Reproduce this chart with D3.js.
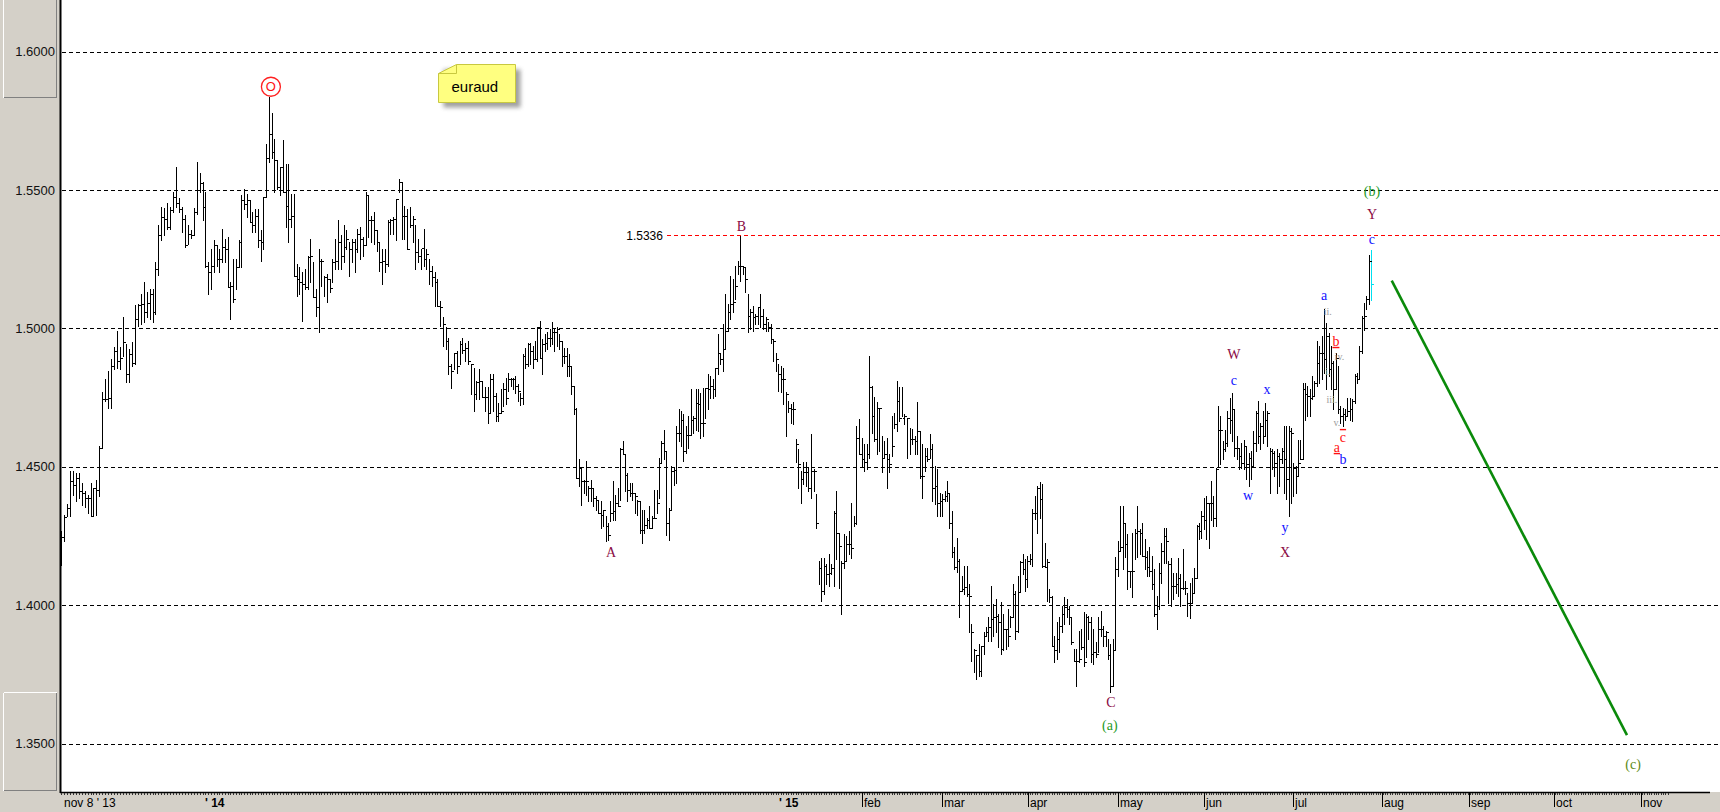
<!DOCTYPE html>
<html><head><meta charset="utf-8">
<script src="https://cdn.jsdelivr.net/npm/d3@7"></script>
<style>body{margin:0;background:#fff;overflow:hidden}svg{display:block}</style>
</head><body>
<svg id="c" width="1720" height="812"></svg>
<script>
// ---- data (EURAUD daily bars) ----
const highs = [
1.4267,1.4327,1.4366,1.4484,1.4484,1.4478,1.4478,1.4442,1.4412,1.4400,
1.4442,1.4424,1.4454,1.4575,1.4769,1.4817,1.4847,1.4889,1.4932,1.4992,
1.4932,1.5041,1.4944,1.4926,1.4950,1.5083,1.5089,1.5125,1.5168,1.5131,
1.5143,1.5143,1.5240,1.5373,1.5440,1.5434,1.5452,1.5440,1.5494,1.5582,
1.5470,1.5440,1.5409,1.5373,1.5355,1.5434,1.5603,1.5563,
1.5529,1.5493,1.5239,1.5287,1.5318,1.5300,1.5287,1.5360,1.5324,1.5330,
1.5167,1.5251,1.5251,1.5318,1.5481,1.5505,1.5487,1.5463,1.5420,1.5432,
1.5432,1.5354,1.5475,1.5668,1.5837,1.5777,1.5686,1.5607,1.5583,1.5680,
1.5595,1.5595,1.5487,1.5487,1.5233,1.5221,1.5203,1.5215,1.5263,1.5324,
1.5239,1.5143,1.5287,1.5251,1.5191,1.5197,1.5179,1.5251,1.5324,1.5390,
1.5336,1.5372,1.5354,1.5312,1.5324,1.5324,1.5360,1.5366,1.5330,1.5493,
1.5481,1.5408,1.5420,1.5354,1.5312,1.5287,1.5287,1.5390,1.5396,1.5402,
1.5469,1.5541,1.5529,1.5444,1.5432,1.5438,1.5408,1.5372,1.5324,1.5287,
1.5360,1.5287,1.5251,1.5227,1.5203,1.5179,1.5100,1.5040,
1.5004,1.4967,1.4871,1.4913,1.4919,1.4955,1.4967,1.4949,1.4955,1.4871,
1.4859,1.4811,1.4853,1.4811,1.4787,1.4787,1.4835,1.4835,
1.4768,1.4732,1.4780,1.4804,1.4822,1.4841,1.4822,1.4822,1.4829,1.4798,
1.4768,1.4907,1.4931,1.4949,1.4949,1.4937,1.4955,1.5004,1.5028,1.4961,
1.4979,1.4986,1.4998,1.5022,1.4998,1.5004,1.4979,1.4955,1.4931,1.4931,
1.4907,1.4865,1.4792,1.4714,1.4527,1.4496,1.4454,1.4521,1.4430,1.4454,
1.4424,1.4394,1.4376,1.4376,1.4345,1.4321,1.4297,1.4376,1.4448,1.4400,
1.4424,1.4569,1.4593,1.4545,1.4478,1.4442,1.4442,1.4406,1.4382,1.4376,
1.4345,1.4345,1.4315,1.4358,1.4321,1.4418,1.4418,1.4533,1.4593,1.4635,
1.4557,1.4351,1.4502,1.4496,1.4647,1.4708,1.4702,1.4690,1.4647,1.4684,
1.4780,1.4684,1.4780,1.4780,1.4768,1.4786,1.4786,1.4835,1.4829,1.4816,
1.4859,1.4980,1.4913,1.5016,1.5124,1.5088,1.5190,1.5178,1.5227,1.5245,
1.5335,1.5227,1.5220,1.5124,1.5070,1.5082,1.5052,1.5076,1.5124,1.5070,
1.5040,1.5022,1.5016,1.4961,1.4913,1.4871,1.4865,1.4859,1.4769,1.4739,
1.4727,1.4733,1.4600,1.4564,1.4486,1.4516,1.4516,1.4498,1.4618,1.4492,
1.4401,1.4160,1.4172,1.4172,1.4148,1.4184,1.4148,1.4341,1.4413,1.4263,
1.4160,1.4257,1.4251,1.4269,1.4371,1.4323,1.4648,1.4672,1.4606,1.4582,
1.4582,1.4901,1.4793,1.4751,1.4733,1.4714,1.4612,1.4594,1.4606,1.4546,
1.4684,1.4696,1.4811,1.4787,1.4787,1.4690,1.4678,1.4642,1.4636,1.4612,
1.4733,1.4630,1.4582,1.4570,1.4570,1.4618,1.4582,1.4504,
1.4492,1.4407,1.4401,1.4413,1.4450,1.4407,1.4341,1.4209,1.4245,1.4167,
1.4107,1.4143,1.4143,1.4077,1.3933,1.3843,1.3819,1.3861,1.3855,1.3903,
1.3921,1.3957,1.4071,1.4005,1.4023,1.3969,1.4011,1.3969,1.3915,1.3987,
1.3963,1.4077,1.4053,1.4107,1.4161,1.4185,1.4167,1.4179,1.4185,1.4347,
1.4395,1.4431,1.4444,1.4438,1.4227,1.4167,1.4059,1.4035,1.3891,1.3939,
1.3957,1.3999,1.4029,1.4023,1.3999,1.3957,1.3843,1.3843,1.3909,1.3915,
1.3975,1.3969,1.3963,1.3957,1.3915,1.3867,1.3957,1.3981,1.3927,1.3909,
1.3879,1.3861,1.3879,1.4173,1.4233,1.4359,1.4359,1.4293,1.4257,1.4125,
1.4263,1.4275,1.4359,1.4275,1.4299,1.4239,1.4197,1.4209,1.4179,1.4131,
1.4034,1.4154,1.4226,1.4280,1.4280,1.4160,1.4172,1.4118,1.4118,1.4172,
1.4112,1.4202,1.4088,1.4046,1.4082,1.4100,1.4136,1.4292,1.4298,1.4341,
1.4389,1.4395,1.4371,1.4449,1.4395,1.4497,1.4720,1.4684,1.4593,1.4635,
1.4702,1.4750,1.4768,1.4708,1.4611,1.4569,1.4587,1.4599,1.4575,1.4551,
1.4557,1.4629,1.4702,1.4738,1.4659,1.4702,1.4732,1.4702,1.4569,1.4563,
1.4557,1.4563,1.4551,1.4569,1.4647,1.4647,1.4647,1.4641,1.4515,1.4503,
1.4599,1.4599,1.4804,1.4804,1.4792,1.4780,1.4828,1.4810,1.4954,1.4936,
1.4972,1.5069,1.5020,1.4984,1.4936,1.4882,1.4912,1.4864,1.4720,1.4714,
1.4708,1.4750,1.4750,1.4744,1.4834,1.4840,1.4936,1.5045,1.5093,1.5117,
1.5265,1.5283];
const lows = [
1.4146,1.4231,1.4321,1.4321,1.4400,1.4376,1.4388,1.4364,1.4357,1.4333,
1.4321,1.4321,1.4327,1.4394,1.4569,1.4738,1.4714,1.4714,1.4853,1.4859,
1.4853,1.4901,1.4805,1.4805,1.4865,1.4871,1.5010,1.5016,1.5022,1.5041,
1.5035,1.5022,1.5053,1.5192,1.5319,1.5337,1.5361,1.5361,1.5421,1.5440,
1.5421,1.5349,1.5294,1.5306,1.5325,1.5337,1.5415,1.5494,
1.5390,1.5221,1.5124,1.5143,1.5203,1.5227,1.5203,1.5239,1.5239,1.5149,
1.5036,1.5094,1.5143,1.5221,1.5221,1.5432,1.5402,1.5384,1.5348,1.5348,
1.5293,1.5245,1.5287,1.5475,1.5601,1.5614,1.5493,1.5505,1.5481,1.5493,
1.5366,1.5312,1.5366,1.5191,1.5118,1.5124,1.5028,1.5143,1.5143,1.5167,
1.5112,1.5046,1.4988,1.5155,1.5118,1.5094,1.5133,1.5167,1.5215,1.5215,
1.5215,1.5239,1.5287,1.5191,1.5239,1.5203,1.5275,1.5251,1.5263,1.5300,
1.5330,1.5312,1.5306,1.5281,1.5209,1.5161,1.5203,1.5227,1.5342,1.5342,
1.5318,1.5493,1.5324,1.5324,1.5287,1.5366,1.5312,1.5215,1.5239,1.5215,
1.5227,1.5215,1.5161,1.5155,1.5082,1.5082,1.5010,1.4937,
1.4925,1.4835,1.4784,1.4853,1.4841,1.4871,1.4913,1.4883,1.4871,1.4763,
1.4702,1.4745,1.4745,1.4751,1.4702,1.4660,1.4696,1.4702,
1.4665,1.4665,1.4696,1.4720,1.4726,1.4774,1.4792,1.4780,1.4768,1.4738,
1.4723,1.4726,1.4859,1.4865,1.4871,1.4859,1.4889,1.4883,1.4895,1.4835,
1.4919,1.4925,1.4937,1.4943,1.4919,1.4937,1.4925,1.4865,1.4877,1.4829,
1.4829,1.4762,1.4690,1.4460,1.4430,1.4364,1.4406,1.4400,1.4376,1.4376,
1.4358,1.4345,1.4333,1.4279,1.4285,1.4231,1.4237,1.4303,1.4309,1.4309,
1.4358,1.4382,1.4545,1.4412,1.4376,1.4394,1.4382,1.4333,1.4327,1.4261,
1.4225,1.4261,1.4279,1.4279,1.4279,1.4315,1.4333,1.4388,1.4514,1.4527,
1.4255,1.4237,1.4345,1.4436,1.4442,1.4593,1.4575,1.4521,1.4551,1.4569,
1.4617,1.4623,1.4635,1.4629,1.4605,1.4611,1.4678,1.4708,1.4750,1.4750,
1.4757,1.4835,1.4871,1.4847,1.4925,1.4992,1.5034,1.5058,1.5106,1.5196,
1.5172,1.5196,1.5130,1.4986,1.4998,1.4992,1.5016,1.5016,1.5004,1.4998,
1.4992,1.4992,1.4949,1.4883,1.4847,1.4775,1.4769,1.4727,1.4612,1.4700,
1.4660,1.4654,1.4516,1.4425,1.4371,1.4437,1.4431,1.4413,1.4389,1.4413,
1.4281,1.4076,1.4016,1.4040,1.4076,1.4070,1.4112,1.4070,1.4166,1.4064,
1.3967,1.4136,1.4160,1.4184,1.4172,1.4287,1.4293,1.4546,1.4498,1.4486,
1.4492,1.4534,1.4624,1.4594,1.4546,1.4558,1.4480,1.4534,1.4425,1.4480,
1.4540,1.4642,1.4630,1.4666,1.4684,1.4654,1.4534,1.4546,1.4582,1.4546,
1.4546,1.4461,1.4389,1.4486,1.4522,1.4534,1.4377,1.4365,
1.4323,1.4323,1.4323,1.4377,1.4377,1.4281,1.4173,1.4131,1.4119,1.3957,
1.4053,1.4041,1.4035,1.3903,1.3800,1.3758,1.3734,1.3746,1.3746,1.3825,
1.3891,1.3873,1.3873,1.3891,1.3903,1.3849,1.3825,1.3837,1.3843,1.3855,
1.3921,1.3957,1.3879,1.3903,1.4047,1.4113,1.4053,1.4065,1.4149,1.4143,
1.4311,1.4263,1.4317,1.4137,1.4137,1.4017,1.4011,1.3855,1.3794,1.3806,
1.3831,1.3903,1.3933,1.3957,1.3933,1.3861,1.3800,1.3710,1.3794,1.3843,
1.3782,1.3813,1.3879,1.3794,1.3788,1.3813,1.3831,1.3891,1.3855,1.3855,
1.3807,1.3686,1.3710,1.3837,1.4107,1.4197,1.4131,1.4173,1.4059,1.4065,
1.4029,1.4167,1.4173,1.4185,1.4179,1.4131,1.4107,1.4107,1.4059,1.3963,
1.3913,1.3986,1.4082,1.4154,1.4154,1.4010,1.3998,1.4022,1.4046,1.4034,
1.3998,1.4058,1.4040,1.3961,1.3955,1.4010,1.4046,1.4100,1.4238,1.4244,
1.4274,1.4238,1.4208,1.4310,1.4286,1.4286,1.4503,1.4509,1.4527,1.4557,
1.4575,1.4623,1.4593,1.4539,1.4527,1.4491,1.4497,1.4491,1.4455,1.4431,
1.4455,1.4503,1.4557,1.4587,1.4563,1.4587,1.4611,1.4575,1.4407,1.4491,
1.4467,1.4407,1.4431,1.4515,1.4407,1.4383,1.4322,1.4371,1.4395,1.4407,
1.4467,1.4527,1.4527,1.4671,1.4684,1.4684,1.4744,1.4756,1.4792,1.4804,
1.4816,1.4840,1.4780,1.4828,1.4780,1.4708,1.4780,1.4696,1.4659,1.4647,
1.4671,1.4684,1.4671,1.4665,1.4732,1.4804,1.4816,1.4912,1.4996,1.5069,
1.5090,1.5102];
const closes = [
1.4246,1.4319,1.4351,1.4448,1.4436,1.4460,1.4412,1.4406,1.4388,1.4388,
1.4321,1.4424,1.4418,1.4569,1.4744,1.4744,1.4750,1.4865,1.4920,1.4883,
1.4895,1.4950,1.4835,1.4908,1.4874,1.5035,1.5083,1.5089,1.5059,1.5093,
1.5125,1.5059,1.5216,1.5337,1.5403,1.5397,1.5367,1.5427,1.5476,1.5452,
1.5430,1.5397,1.5300,1.5343,1.5337,1.5421,1.5500,1.5524,
1.5438,1.5227,1.5203,1.5227,1.5300,1.5251,1.5251,1.5293,1.5287,1.5149,
1.5155,1.5106,1.5221,1.5312,1.5463,1.5450,1.5463,1.5384,1.5372,1.5408,
1.5318,1.5312,1.5475,1.5614,1.5704,1.5638,1.5607,1.5511,1.5583,1.5493,
1.5444,1.5396,1.5408,1.5191,1.5179,1.5167,1.5161,1.5149,1.5257,1.5263,
1.5112,1.5076,1.5245,1.5245,1.5185,1.5179,1.5145,1.5239,1.5245,1.5312,
1.5263,1.5293,1.5324,1.5287,1.5312,1.5287,1.5342,1.5324,1.5300,1.5481,
1.5390,1.5390,1.5354,1.5312,1.5239,1.5245,1.5233,1.5384,1.5390,1.5396,
1.5469,1.5529,1.5408,1.5408,1.5287,1.5372,1.5396,1.5275,1.5260,1.5290,
1.5250,1.5270,1.5209,1.5185,1.5167,1.5082,1.5076,1.5016,
1.4955,1.4865,1.4847,1.4913,1.4865,1.4943,1.4922,1.4931,1.4883,1.4871,
1.4763,1.4805,1.4811,1.4751,1.4751,1.4696,1.4817,1.4757,
1.4684,1.4696,1.4702,1.4780,1.4750,1.4816,1.4816,1.4816,1.4792,1.4774,
1.4750,1.4901,1.4871,1.4943,1.4919,1.4889,1.4889,1.5004,1.4895,1.4943,
1.4949,1.4964,1.4964,1.4986,1.4986,1.4998,1.4955,1.4901,1.4901,1.4865,
1.4865,1.4792,1.4708,1.4460,1.4496,1.4448,1.4448,1.4448,1.4424,1.4424,
1.4388,1.4382,1.4333,1.4327,1.4345,1.4285,1.4255,1.4333,1.4339,1.4370,
1.4358,1.4563,1.4545,1.4472,1.4418,1.4406,1.4406,1.4394,1.4376,1.4273,
1.4273,1.4291,1.4309,1.4279,1.4315,1.4315,1.4370,1.4514,1.4587,1.4557,
1.4297,1.4345,1.4484,1.4490,1.4623,1.4623,1.4671,1.4557,1.4617,1.4617,
1.4671,1.4678,1.4732,1.4726,1.4659,1.4659,1.4786,1.4780,1.4792,1.4780,
1.4859,1.4913,1.4889,1.4925,1.4992,1.5058,1.5088,1.5094,1.5154,1.5227,
1.5227,1.5223,1.5178,1.5046,1.5058,1.5040,1.5046,1.5076,1.5046,1.5016,
1.5034,1.5004,1.4961,1.4955,1.4889,1.4835,1.4817,1.4817,1.4763,1.4714,
1.4708,1.4708,1.4582,1.4510,1.4455,1.4480,1.4480,1.4425,1.4486,1.4486,
1.4299,1.4136,1.4052,1.4142,1.4112,1.4118,1.4136,1.4335,1.4263,1.4214,
1.4154,1.4160,1.4220,1.4220,1.4208,1.4299,1.4606,1.4546,1.4528,1.4516,
1.4546,1.4787,1.4684,1.4600,1.4714,1.4714,1.4534,1.4546,1.4528,1.4510,
1.4576,1.4654,1.4739,1.4678,1.4678,1.4684,1.4678,1.4600,1.4600,1.4594,
1.4630,1.4467,1.4467,1.4540,1.4528,1.4564,1.4425,1.4431,
1.4371,1.4377,1.4383,1.4395,1.4407,1.4297,1.4191,1.4137,1.4161,1.4053,
1.4059,1.4065,1.4041,1.4035,1.3903,1.3837,1.3819,1.3764,1.3855,1.3891,
1.3903,1.3921,1.3951,1.3957,1.3963,1.3939,1.3843,1.3915,1.3915,1.3891,
1.3957,1.4041,1.3909,1.4047,1.4155,1.4131,1.4095,1.4161,1.4167,1.4335,
1.4335,1.4425,1.4383,1.4143,1.4137,1.4155,1.4029,1.3855,1.3837,1.3879,
1.3927,1.3969,1.3993,1.3987,1.3957,1.3867,1.3800,1.3800,1.3806,1.3849,
1.3794,1.3957,1.3939,1.3825,1.3831,1.3825,1.3915,1.3915,1.3891,1.3903,
1.3819,1.3710,1.3837,1.4131,1.4197,1.4209,1.4299,1.4221,1.4125,1.4125,
1.4125,1.4263,1.4269,1.4263,1.4179,1.4173,1.4137,1.4125,1.4077,1.3969,
1.3998,1.4118,1.4196,1.4250,1.4232,1.4148,1.4070,1.4070,1.4076,1.4100,
1.4064,1.4064,1.4064,1.4010,1.4010,1.4046,1.4100,1.4286,1.4268,1.4322,
1.4310,1.4371,1.4371,1.4371,1.4316,1.4491,1.4635,1.4635,1.4563,1.4587,
1.4677,1.4671,1.4708,1.4569,1.4569,1.4539,1.4515,1.4575,1.4509,1.4533,
1.4503,1.4587,1.4696,1.4611,1.4647,1.4611,1.4671,1.4696,1.4557,1.4551,
1.4515,1.4539,1.4527,1.4557,1.4527,1.4455,1.4629,1.4623,1.4497,1.4467,
1.4515,1.4527,1.4780,1.4762,1.4756,1.4750,1.4756,1.4804,1.4876,1.4912,
1.4912,1.4888,1.4972,1.4852,1.4876,1.4780,1.4894,1.4708,1.4684,1.4690,
1.4684,1.4702,1.4708,1.4738,1.4828,1.4816,1.4918,1.5039,1.5045,1.5105,
1.5245,1.5160];

// price axis
const yTicks = [1.35, 1.40, 1.45, 1.50, 1.55, 1.60];
// time axis labels (positions given as bar index, future months extrapolated)
const xLabels   = ["nov 8 ' 13", "' 14", "' 15", "feb", "mar", "apr", "may", "jun", "jul", "aug", "sep", "oct", "nov"];
const xLabelIdx = [0.7, 48.5, 268.9, 302.2, 334.1, 369.2, 406.1, 442.1, 479.9, 517.7, 554.6, 590.7, 627.6];
const xLabelBold = [false, true, true, false, false, false, false, false, false, false, false, false, false];
const xLabelTick = [false, false, false, true, true, true, true, true, true, true, true, true, true];

// wave labels
const waveText  = ["A", "B", "C", "(a)", "W", "c", "w", "x", "y", "X", "a", "ii.", "b", "iv.", "i.", "iii.", "v.", "c", "a", "b", "(b)", "Y", "c", "(c)"];
const waveIdx   = [201.3, 254.5, 403.2, 402.8, 454.8, 454.8, 460.8, 468.8, 476.5, 476.5, 493.1, 494.6, 498.1, 499.6, 494.7, 496.4, 498.5, 501.1, 498.5, 501.1, 513.4, 513.4, 513.4, 624.3];
const wavePrice = [1.4193, 1.5370, 1.3651, 1.3568, 1.4908, 1.4814, 1.4399, 1.4782, 1.4283, 1.4193, 1.5121, 1.5060, 1.4955, 1.4898, 1.4843, 1.4742, 1.4659, 1.4608, 1.4572, 1.4529, 1.5496, 1.5413, 1.5323, 1.3427];
const waveKind  = ["M","M","M","G","M","bl","bl","bl","bl","M","bl","gr","r","gr","gr","gr","gr","r","r","bl","G","M","bl","O"];

// special levels / annotations
const peakLabel = {text: "O", idx: 72.7, price: 1.5873};
const level = {value: 1.5336, label: "1.5336", idx: 222.6};
const projIdx = [521.8, 621.7];
const projPrice = [1.5173, 1.3531];
const note = {text: "euraud", idx: 133.2, price: 1.5955};

// bar index anchors of the (non-uniform) time axis
const anchorIdx = [0, 48, 136, 154, 244, 332, 422, 513];
const anchorPx  = [61, 202.7, 445.7, 496, 715, 937.3, 1156.7, 1371];

// ---- drawing ----
const W = 1720, H = 812;
const plotL = 61, plotB = 792;
const svg = d3.select("#c");
const x = d3.scaleLinear().domain(anchorIdx).range(anchorPx);
const y = d3.scaleLinear().domain([1.35, 1.60]).range([743.8, 51.6]);

const colors = {M: "#8a0a44", bl: "#1010ff", gr: "#9a9a9a", r: "#ff1010", G: "#1f9a1f", O: "#5e8a16"};

// backgrounds
svg.append("rect").attr("x", 0).attr("y", 0).attr("width", W).attr("height", H).attr("fill", "#fff");
svg.append("rect").attr("x", 0).attr("y", 0).attr("width", plotL - 1).attr("height", H).attr("fill", "#d4d0c8");
svg.append("rect").attr("x", 0).attr("y", plotB).attr("width", W).attr("height", H - plotB).attr("fill", "#d4d0c8");

// bevelled boxes in the left panel
function bevel(x0, y0, x1, y1) {
  const g = svg.append("g").attr("shape-rendering", "crispEdges");
  g.append("line").attr("x1", x0).attr("y1", y0).attr("x2", x1).attr("y2", y0).attr("stroke", "#fff");
  g.append("line").attr("x1", x0).attr("y1", y0).attr("x2", x0).attr("y2", y1).attr("stroke", "#fff");
  g.append("line").attr("x1", x1).attr("y1", y0).attr("x2", x1).attr("y2", y1).attr("stroke", "#808080");
  g.append("line").attr("x1", x0).attr("y1", y1).attr("x2", x1).attr("y2", y1).attr("stroke", "#808080");
}
bevel(3.5, -2, 56.5, 97.5);
bevel(3.5, 692.5, 56.5, 790.5);

// grid lines
const grid = svg.append("g").attr("shape-rendering", "crispEdges");
grid.selectAll("line").data(yTicks).join("line")
  .attr("x1", plotL + 1).attr("x2", W)
  .attr("y1", d => Math.round(y(d)) + 0.5).attr("y2", d => Math.round(y(d)) + 0.5)
  .attr("stroke", "#000").attr("stroke-width", 1).attr("stroke-dasharray", "4,3");

// y labels
svg.append("g").selectAll("text").data(yTicks).join("text")
  .attr("x", 55).attr("y", d => y(d)).attr("dy", "0.35em")
  .attr("text-anchor", "end").attr("font-family", "Liberation Sans, Arial, sans-serif")
  .attr("font-size", 13).attr("fill", "#111")
  .text(d => d.toFixed(4));

// level line 1.5336
svg.append("line").attr("shape-rendering", "crispEdges")
  .attr("x1", x(level.idx) + 4).attr("x2", W)
  .attr("y1", Math.round(y(level.value)) + 0.5).attr("y2", Math.round(y(level.value)) + 0.5)
  .attr("stroke", "#ff0000").attr("stroke-dasharray", "4,3");
svg.append("text").attr("x", x(level.idx)).attr("y", y(level.value)).attr("dy", "0.35em")
  .attr("text-anchor", "end").attr("font-family", "Liberation Sans, Arial, sans-serif")
  .attr("font-size", 12).attr("fill", "#000").text(level.label);

// bars
const n = highs.length;
const idx = d3.range(n);
const bars = svg.append("g").attr("shape-rendering", "crispEdges");
bars.selectAll("line.hl").data(idx).join("line").attr("class", "hl")
  .attr("x1", i => Math.round(x(i)) + 0.5).attr("x2", i => Math.round(x(i)) + 0.5)
  .attr("y1", i => Math.round(y(highs[i]))).attr("y2", i => Math.round(y(lows[i])) + 1)
  .attr("stroke", i => i === n - 1 ? "#00e0f0" : "#000").attr("stroke-width", 1);
bars.selectAll("line.cl").data(idx).join("line").attr("class", "cl")
  .attr("x1", i => Math.round(x(i)) + 1).attr("x2", i => Math.round(x(i)) + 3)
  .attr("y1", i => Math.round(y(closes[i])) + 0.5).attr("y2", i => Math.round(y(closes[i])) + 0.5)
  .attr("stroke", i => i === n - 1 ? "#00e0f0" : "#000").attr("stroke-width", 1);

// axes lines
svg.append("line").attr("x1", plotL - 0.5).attr("x2", plotL - 0.5).attr("y1", 0).attr("y2", plotB + 1)
  .attr("stroke", "#000").attr("stroke-width", 2);
svg.append("line").attr("x1", plotL - 1).attr("x2", 1710).attr("y1", plotB + 0.5).attr("y2", plotB + 0.5)
  .attr("stroke", "#000").attr("stroke-width", 1.5);

// minor ticks on the time axis (one per bar)
const minor = d3.range(0, 640);
svg.append("g").attr("shape-rendering", "crispEdges").selectAll("line").data(minor).join("line")
  .attr("x1", i => Math.round(x(i)) + 0.5).attr("x2", i => Math.round(x(i)) + 0.5)
  .attr("y1", plotB + 1).attr("y2", plotB + 3).attr("stroke", "#333");

// time labels
const xl = svg.append("g");
xLabels.forEach((t, k) => {
  const px = Math.round(x(xLabelIdx[k]));
  if (xLabelTick[k]) xl.append("line").attr("x1", px + 0.5).attr("x2", px + 0.5)
      .attr("y1", plotB + 1).attr("y2", plotB + 15).attr("stroke", "#000").attr("shape-rendering", "crispEdges");
  xl.append("text").attr("x", px + (xLabelTick[k] ? 2 : 1)).attr("y", 807)
    .attr("font-family", "Liberation Sans, Arial, sans-serif").attr("font-size", 12)
    .attr("font-weight", xLabelBold[k] ? "bold" : "normal").attr("fill", "#000").text(t);
});

// projection line
svg.append("line")
  .attr("x1", x(projIdx[0])).attr("y1", y(projPrice[0]))
  .attr("x2", x(projIdx[1])).attr("y2", y(projPrice[1]))
  .attr("stroke", "#0a8a0a").attr("stroke-width", 2.6);

// wave labels
const wl = svg.append("g");
waveText.forEach((t, k) => {
  const kind = waveKind[k];
  const small = kind === "gr";
  const tx = wl.append("text").attr("x", x(waveIdx[k])).attr("y", y(wavePrice[k])).attr("dy", "0.35em")
    .attr("text-anchor", "middle")
    .attr("font-family", "Liberation Serif, Times New Roman, serif")
    .attr("font-size", small ? 10 : 14).attr("fill", colors[kind]).text(t);
  if (kind === "r" && t === "b") tx.attr("text-decoration", "underline");
  if (kind === "r" && t === "a") tx.attr("text-decoration", "underline");
  if (kind === "r" && t === "c") tx.attr("text-decoration", "overline");
});

// circled peak label
const px0 = x(peakLabel.idx), py0 = y(peakLabel.price);
svg.append("circle").attr("cx", px0).attr("cy", py0).attr("r", 9.5)
  .attr("fill", "#fff").attr("stroke", "#ff2020").attr("stroke-width", 1.3);
svg.append("text").attr("x", px0).attr("y", py0).attr("dy", "0.36em").attr("text-anchor", "middle")
  .attr("font-family", "Liberation Sans, Arial, sans-serif").attr("font-size", 13).attr("fill", "#ff1010")
  .text(peakLabel.text);

// note
const defs = svg.append("defs");
const f = defs.append("filter").attr("id", "sh").attr("x", "-20%").attr("y", "-20%").attr("width", "160%").attr("height", "160%");
f.append("feGaussianBlur").attr("stdDeviation", 2.2);
const nx = Math.round(x(note.idx)) + 0.5, ny = Math.round(y(note.price)) + 0.5, nw = 77, nh = 38, fw = 18, fh = 9;
svg.append("rect").attr("x", nx + 5).attr("y", ny + 5).attr("width", nw).attr("height", nh)
  .attr("fill", "#808080").attr("opacity", 0.75).attr("filter", "url(#sh)");
svg.append("path")
  .attr("d", `M${nx + fw},${ny} L${nx + nw},${ny} L${nx + nw},${ny + nh} L${nx},${ny + nh} L${nx},${ny + fh} Z`)
  .attr("fill", "#ffff80").attr("stroke", "#c8c840");
svg.append("path")
  .attr("d", `M${nx},${ny + fh} L${nx + fw},${ny + fh} L${nx + fw},${ny}`)
  .attr("fill", "none").attr("stroke", "#c8c840");
svg.append("text").attr("x", nx + 13).attr("y", ny + 27)
  .attr("font-family", "Liberation Sans, Arial, sans-serif").attr("font-size", 15).attr("fill", "#000")
  .text(note.text);
</script>
</body></html>
